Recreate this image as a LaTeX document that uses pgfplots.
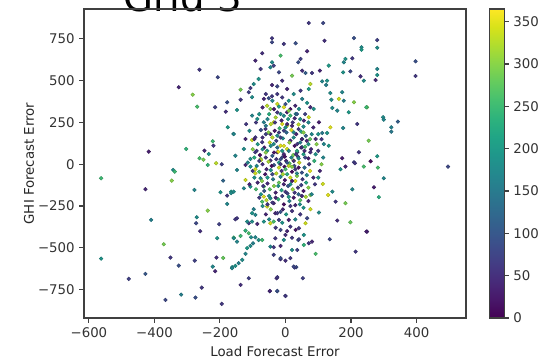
\documentclass[border=0pt]{standalone}
\usepackage{pgfplots}
\pgfplotsset{compat=1.18}
\usepackage{pgfplotstable}
\usepackage{fontspec}
\setmainfont{DejaVu Sans}
\pgfplotstableread{
x y c
-262.6 565.8 60
-206.7 520.3 80
-325.8 460.5 40
-283.1 416.3 300
-269.6 344.5 260
-214.7 340.9 70
-178.0 370.8 90
-182.3 314.6 50
-176.2 221.3 200
-158.8 181.2 170
-222.0 137.6 250
-219.8 111.2 60
-303.2 91.5 240
-247.3 81.3 40
-234.2 61.6 190
-417.4 75.4 30
-262.6 35.9 260
-250.4 27.5 290
-237.3 -4.2 240
-211.6 6.0 330
-194.5 0 70
-342.9 -34.1 180
-338.0 -44.3 250
-347.2 -98.1 300
-562.7 -83.7 250
-190.2 -98.1 120
-427.5 -149.5 40
-277.9 -153.7 170
-198.5 -167.5 190
-178.0 -187.8 60
-165.8 -163.9 200
-178.0 -237.4 170
-237.3 -277.5 300
-410.1 -333.1 160
-270.8 -317.0 180
-272.7 -352.9 80
-202.4 -358.9 70
-260.5 -400.7 50
-208.5 -442.6 190
-157.9 -439.0 260
-371.6 -478.5 290
-562.7 -564.6 190
-351.1 -558.6 60
-276.9 -576.6 70
-210.7 -558.6 50
-190.2 -560.4 280
-325.8 -606.5 90
-222.0 -612.4 170
-214.7 -640.0 40
-162.7 -616.0 180
-478.5 -686.0 70
-427.5 -656.1 100
-255.6 -738.0 60
-318.5 -779.9 160
-274.8 -797.8 90
-366.4 -811.6 80
-194.5 -835.5 60
280 743 70
280 697 180
397 616 90
397 528 60
280 570 170
280 534 190
275 504 40
249 341 290
298 281 180
300 267 170
343 255 110
323 221 160
323 195 150
254 141 290
280 48 200
260 18 10
282 -20 260
496 -14 80
300 -84 170
270 -138 30
285 -197 230
249 -403 40
71 845 60
115 845 80
119 739 50
209 755 90
232 700 180
232 685 200
66 676 40
46 630 70
39 610 90
183 630 190
178 610 170
204 634 60
132 590 200
51 560 50
61 546 110
81 546 60
105 560 40
176 550 190
198 556 80
229 526 50
239 500 180
76 480 330
112 496 170
127 500 190
124 474 160
71 450 200
46 440 60
137 426 180
173 431 170
163 391 340
140 386 180
178 380 160
209 371 300
247 341 250
143 337 180
76 341 40
86 331 190
158 321 170
193 311 200
51 391 160
66 367 190
41 331 180
71 281 340
56 261 40
102 251 30
137 221 350
176 217 170
219 241 60
112 187 150
127 187 190
92 151 40
51 151 180
117 121 170
132 111 200
224 72 60
173 36 30
209 12 70
76 72 50
51 102 170
212 6 60
239 -14 260
168 -30 190
183 -14 40
114 -118 340
143 -164 180
130 -184 350
204 -150 170
76 -184 300
153 -224 60
183 -233 290
76 -269 340
102 -289 180
158 -337 50
198 -347 280
66 -323 80
61 -353 340
41 -383 60
247 -403 30
56 -423 190
135 -449 80
81 -463 40
71 -473 60
39 -453 90
56 -483 240
36 -513 70
214 -523 60
92 -536 260
33 -616 90
53 -682 70
0 -788 80
-48 -760 60
-25 -760 90
-27 -682 50
28 -618 70
-15 -568 40
-153 -329 60
-158 -443 180
-148 -463 170
-163 -622 170
-153 -608 190
-143 -592 160
-132 -572 180
-122 -536 170
-117 -502 200
-107 -489 180
-99 -473 160
-82 -453 190
-71 -453 250
-112 -413 260
-105 -437 180
-92 -437 170
-122 -397 240
-112 -353 60
-102 -343 180
-86 -357 40
-92 -303 170
-102 -293 190
-97 -269 160
-117 -343 180
-137 -429 250
-46 -493 170
-36 -496 60
-15 -489 40
-36 -542 70
-15 -562 90
0 -577 50
15 -562 60
25 -612 80
-25 -676 60
-112 -682 70
-137 -722 50
-48 -758 40
-25 -758 90
0 -788 60
-31 -293 40
-20 -333 70
10 -333 30
15 -373 60
31 -393 20
-15 -393 80
0 -423 50
-31 -443 60
-5 -453 180
41 -449 70
20 -513 180
-46 -353 340
-36 -343 260
-66 -343 190
-56 -253 340
-71 -224 260
-66 -194 350
-46 -204 180
-36 -233 40
-25 -293 60
-158 -164 180
-127 -144 170
-107 -134 190
-122 -94 340
-76 -84 170
-66 -134 260
-92 -54 340
-107 -14 190
-148 -34 170
-122 -4 40
-166 -173 180
-148 -323 60
-41 754 60
-41 730 80
-5 720 60
31 724 90
-71 664 50
-15 650 260
-92 620 40
-41 610 180
-36 590 70
-76 570 60
-46 580 170
-20 550 80
20 530 290
-82 510 190
-10 500 50
-41 474 40
-25 466 80
-97 480 180
-107 456 60
-112 431 70
-137 446 290
-102 401 180
-137 386 60
-66 391 40
-51 395 90
-41 407 60
-25 361 340
-5 341 350
-56 350 330
-46 331 300
-15 301 180
5 311 30
15 291 250
31 301 170
-148 325 190
-102 291 170
-86 271 190
-66 251 160
-36 251 340
-10 241 350
5 231 330
-61 211 50
-46 181 40
-25 171 180
-5 201 70
25 191 170
-92 161 60
-122 151 40
-158 181 170
-102 145 340
-71 132 60
-36 121 180
-15 111 350
15 141 40
36 121 60
-127 91 180
-153 51 170
-92 72 60
-56 81 190
-25 72 30
5 91 340
36 72 60
-107 32 180
-76 32 300
-46 22 50
-10 42 80
25 22 340
-30 280 320
-12 262 40
8 270 200
22 250 60
40 238 330
55 225 180
-60 230 150
-75 205 90
-52 190 300
-33 200 20
-18 215 250
3 190 120
18 205 350
33 180 40
48 195 210
62 170 110
75 150 280
-85 120 200
-65 100 30
-48 130 340
-28 140 70
-8 155 180
12 130 310
28 110 20
45 130 150
60 105 260
78 90 45
92 60 190
-95 40 230
-78 55 15
-60 70 300
-40 50 110
-22 75 355
-5 60 40
10 80 160
24 55 290
38 45 70
55 60 210
70 35 30
88 20 240
-88 -10 170
-70 0 50
-52 15 320
-35 -5 100
-20 10 200
-3 -15 15
12 5 270
27 -10 80
42 10 340
58 -20 130
72 0 60
-80 -45 260
-62 -60 20
-45 -35 190
-28 -55 330
-12 -40 55
5 -60 230
20 -45 10
35 -70 300
50 -50 90
65 -65 170
-72 -100 300
-55 -115 45
-38 -90 150
-20 -110 280
-2 -95 25
15 -120 190
30 -100 350
48 -125 70
63 -110 220
-65 -160 100
-48 -150 270
-30 -170 35
-12 -155 210
6 -175 75
22 -150 310
40 -180 120
55 -160 20
-58 -215 330
-40 -230 60
-22 -210 240
-5 -240 15
12 -220 160
30 -245 40
45 -215 270
-15 -285 90
2 -300 200
20 -280 55
-45 -270 300
-35 330 25
-20 345 210
0 360 90
15 330 20
-50 300 230
35 300 110
5 240 40
-5 110 350
-15 30 90
0 -30 260
15 -80 340
-10 -190 70
25 20 50
-42 -10 10
-25 100 130
35 80 230
50 150 35
-70 160 50
8 -130 100
-32 250 60
25 -200 25
-8 -60 320
40 -20 15
-55 -80 200
60 40 80
-90 250 60
-80 300 190
-70 340 40
-55 270 170
-45 240 330
-25 310 60
-5 290 180
10 320 300
28 275 40
45 270 190
60 300 70
70 250 170
85 220 40
100 180 190
110 150 60
95 120 300
80 180 170
65 140 40
-110 200 180
-120 240 60
-100 90 300
-115 10 170
-100 -40 60
-95 -80 190
-110 -120 40
-90 -150 260
-80 -200 60
-70 -250 180
-60 -300 40
-50 -330 170
-30 -380 60
-10 -350 190
5 -400 40
20 -440 60
30 -330 170
45 -300 60
55 -260 190
70 -220 40
80 -180 170
90 -120 60
100 -80 190
105 -40 40
110 0 300
115 40 170
100 80 60
-20 -20 340
-28 30 60
-10 80 190
2 20 40
18 40 170
30 -30 60
10 -10 330
-5 -120 40
-15 160 70
25 160 180
15 -250 60
-35 -130 300
38 -140 60
-50 -190 180
50 -190 40
70 -140 300
-68 -130 60
-60 40 60
-45 110 180
-35 70 20
-15 -75 170
0 -165 60
20 -100 30
35 -55 170
52 -90 60
75 -40 350
85 -80 40
40 35 180
58 80 40
70 120 190
-88 80 60
-75 25 330
-58 -30 40
-40 -60 80
-22 -130 190
-8 -270 40
10 -195 200
28 -170 60
44 -240 180
62 -195 320
-30 -200 40
-15 0 60
5 10 100
-2 45 20
20 -15 300
32 60 60
48 100 40
-55 -240 60
-75 -180 190
-85 -110 40
-92 -30 340
-80 20 60
-70 90 180
-95 150 40
-60 180 70
-40 160 330
-20 190 60
0 220 190
20 230 40
40 210 60
55 190 300
-10 400 60
10 380 190
30 350 40
-40 380 170
-25 420 60
5 450 40
25 420 180
-60 420 60
}\datatable
\begin{document}
\begin{tikzpicture}
\useasboundingbox (0,0) rectangle (407.25pt,272.25pt);
\node[anchor=base, font=\fontsize{29}{34}\selectfont] at (137.25pt,263.25pt) {Grid 3};
\begin{axis}[
  at={(63pt,33.75pt)}, anchor=south west,
  scale only axis, width=286.5pt, height=231.75pt,
  xmin=-615, xmax=551, ymin=-920, ymax=929,
  xtick={-600,-400,-200,0,200,400},
  xticklabels={−600,−400,−200,0,200,400},
  ytick={-750,-500,-250,0,250,500,750},
  yticklabels={−750,−500,−250,0,250,500,750},
  tick align=outside, tick pos=left, major tick length=3.5pt,
  axis line style={black!75, line width=0.8pt},
  tick style={black!75, line width=0.8pt},
  ticklabel style={font=\fontsize{10}{12}\selectfont, text=black!80},
  label style={font=\fontsize{10}{12}\selectfont, text=black!85},
  xlabel={Load Forecast Error},
  ylabel={GHI Forecast Error},
  ylabel style={yshift=-4pt},
  colormap/viridis,
  point meta min=0, point meta max=365,
  colorbar,
  colorbar style={
    at={(parent axis.north east)}, anchor=north west, xshift=8.75pt,
    width=11.25pt,
    ytick={0,50,100,150,200,250,300,350},
    yticklabels={0,50,100,150,200,250,300,350},
    ytick pos=right, yticklabel pos=right,
    tick align=outside, major tick length=3.5pt,
    axis line style={black!75, line width=0.8pt},
    tick style={black!75, line width=0.8pt},
    yticklabel style={font=\fontsize{10}{12}\selectfont, text=black!80},
  },
]
\addplot[scatter, only marks, mark=*, mark size=1.35pt, scatter src=explicit]
  table[x=x, y=y, meta=c] {\datatable};
\end{axis}
\end{tikzpicture}
\end{document}
